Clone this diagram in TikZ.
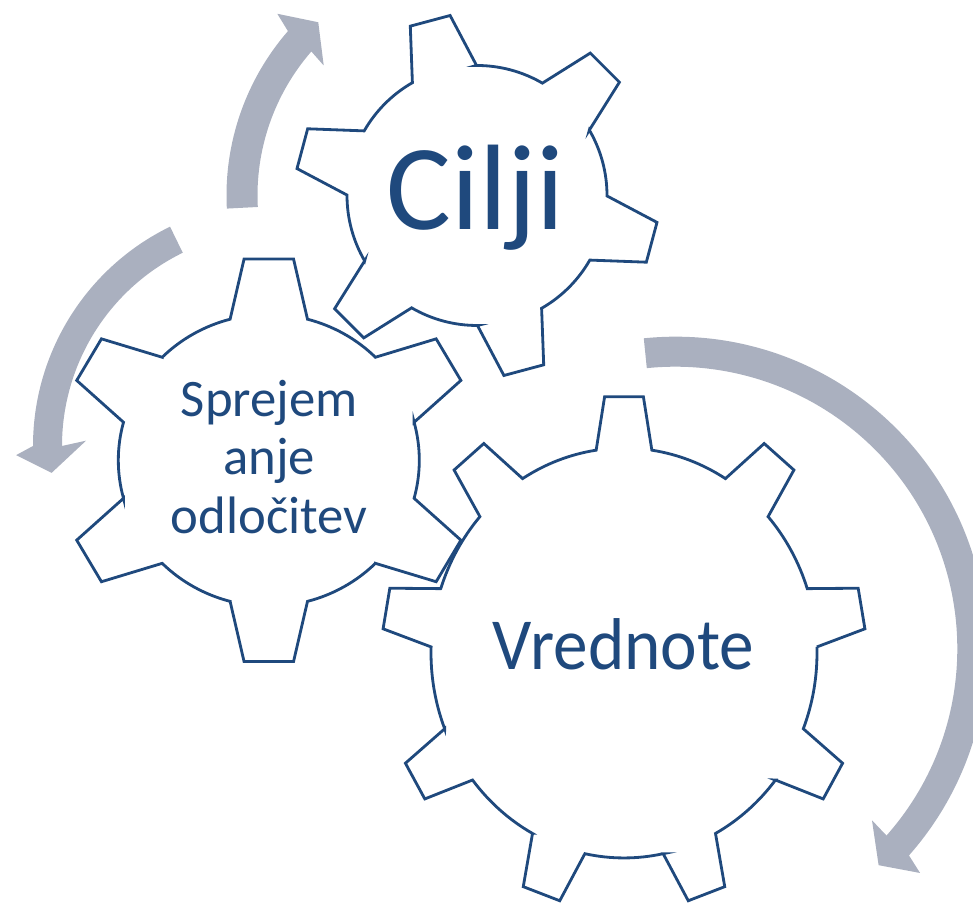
\documentclass[tikz,border=0pt]{standalone}
\usepackage{fontspec}
\setmainfont{Carlito}
\usepackage{xcolor}
\definecolor{gearblue}{RGB}{31,73,125}
\definecolor{arrowgray}{RGB}{170,176,191}
\tikzset{
  gearline/.style={draw=gearblue, line width=0.8pt, line join=miter},
  cyclearrow/.style={fill=arrowgray, draw=none},
  gearlabel/.style={text=gearblue, inner sep=0pt, anchor=base},
}
\begin{document}
\begin{tikzpicture}
        \useasboundingbox (0,0) rectangle (9.73,9.04);
        \clip (0,0) rectangle (9.73,9.04);
        % arrows round the gears
        \fill[cyclearrow, shift={(4.77,7.085)}] (183:2.505) arc[start angle=183, end angle=139, radius=2.505]
            -- (137.7:2.70) -- (132.5:2.35) -- (139.7:2.01) -- (139:2.195)
            arc[start angle=139, end angle=183, radius=2.195] -- cycle;
        \fill[cyclearrow, shift={(2.77,4.58)}] (116:2.44) arc[start angle=116, end angle=180, radius=2.44]
            -- (182:2.61) -- (186.8:2.27) -- (178.4:1.91) -- (180:2.15)
            arc[start angle=180, end angle=116, radius=2.15] -- cycle;
        \fill[cyclearrow, shift={(6.753,2.553)}] (95.8:3.12) arc[start angle=95.8, end angle=-41.5, radius=3.12]
            -- (-42.5:3.32) -- (-46.8:2.97) -- (-41.1:2.61) -- (-41.5:2.82)
            arc[start angle=-41.5, end angle=95.8, radius=2.82] -- cycle;
        % gear Vrednote
        \begin{scope}[shift={(6.24,2.51)}, yscale=1.062]
            \draw[gearline] (81.7:1.93) \foreach \a in {90,130,...,410} {
                -- ({\a-8.3}:1.93) -- ({\a-4.6}:2.42) -- ({\a+4.6}:2.42) -- ({\a+8.3}:1.93)
                arc[start angle={\a+8.3}, end angle={\a+31.7}, radius=1.93]
            } -- cycle;
        \end{scope}
        % gear Sprejemanje odlocitev
        \begin{scope}[shift={(2.688,4.437)}, yscale=0.97]
            \draw[gearline] (75.1:1.505) \foreach \a in {90,150,...,390} {
                -- ({\a-14.9}:1.505) -- ({\a-6.8}:2.09) -- ({\a+6.8}:2.09) -- ({\a+14.9}:1.505)
                arc[start angle={\a+14.9}, end angle={\a+45.1}, radius=1.505]
            } -- cycle;
        \end{scope}
        % gear Cilji
        \begin{scope}[shift={(4.77,7.085)}]
            \draw[gearline] (30.2:1.30) \foreach \a in {45,105,...,345} {
                -- ({\a-14.8}:1.30) -- ({\a-6.5}:1.82) -- ({\a+6.5}:1.82) -- ({\a+14.8}:1.30)
                arc[start angle={\a+14.8}, end angle={\a+45.2}, radius=1.30]
            } -- cycle;
        \end{scope}
        % labels
        \node[gearlabel, font=\fontsize{34.6}{40}\selectfont] (cilji) at (4.755,6.74) {Cilji};
        \node[gearlabel, font=\fontsize{19.7}{24}\selectfont] (vrednote) at (6.235,2.34) {\scalebox{1}[1.06]{Vrednote}};
        \node[gearlabel, align=center, font=\fontsize{15}{16.6}\selectfont] (odlocitev) at (2.693,3.707) {Sprejem\\anje\\odločitev};
    \end{tikzpicture}
\end{document}
